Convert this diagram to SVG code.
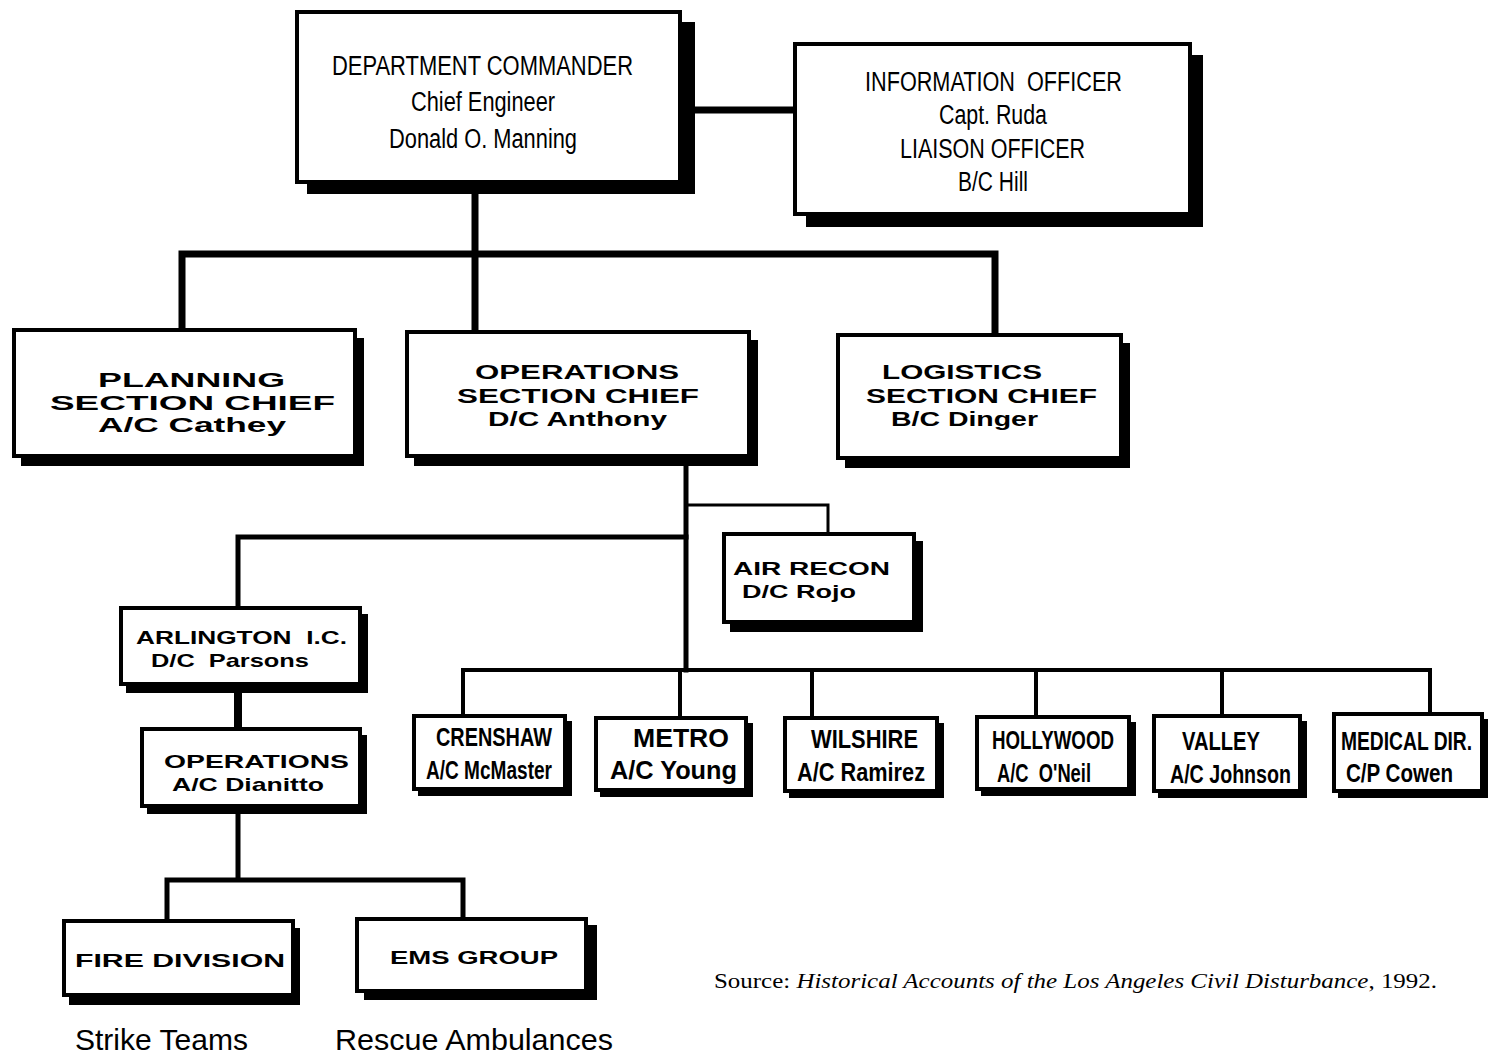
<svg xmlns="http://www.w3.org/2000/svg" width="1488" height="1055" viewBox="0 0 1488 1055">
<style>
.bg{fill:#fff}
.box{fill:#fff;stroke:#000;stroke-width:4}
.sh{fill:#000}
.ln{fill:none;stroke:#000;stroke-linecap:square}
text{fill:#000;white-space:pre}
.n{font-family:"Liberation Sans",Arial,sans-serif;font-size:27px}
.r{font-family:"Liberation Sans",Arial,sans-serif;font-size:25px;font-weight:bold}
.w{font-family:"Liberation Sans",Arial,sans-serif;font-weight:bold;font-size:20px}
.ws{font-family:"Liberation Sans",Arial,sans-serif;font-weight:bold;font-size:19px}
.lab{font-family:"Liberation Sans",Arial,sans-serif;font-size:30px}
.src{font-family:"Liberation Serif","Times New Roman",serif;font-size:21px}
</style>
<rect class="bg" x="0" y="0" width="1488" height="1055"/>
<g id="connectors">
<path class="ln" stroke-width="7" d="M683 110H793"/>
<path class="ln" stroke-width="7" d="M475 186V254M182 254H995M182 254V328M475 254V330M995 254V333"/>
<path class="ln" stroke-width="5" d="M686 465V670"/>
<path class="ln" stroke-width="3" d="M686 505H828V532"/>
<path class="ln" stroke-width="5" d="M686 537H238V606"/>
<path class="ln" stroke-width="4" d="M463 670H1430M463 670V714M680 670V716M812 670V716M1036 670V715M1222 670V714M1430 670V712"/>
<path class="ln" stroke-width="8" d="M238 688V727"/>
<path class="ln" stroke-width="5" d="M238 810V880M167 880H463M167 880V919M463 880V917"/>
</g>
<g id="dept-commander">
<rect class="sh" x="307" y="22" width="388" height="172"/>
<rect class="box" x="297" y="12" width="383" height="170"/>
<text class="n" x="332" y="75" textLength="301" lengthAdjust="spacingAndGlyphs">DEPARTMENT COMMANDER</text>
<text class="n" x="411" y="111" textLength="144" lengthAdjust="spacingAndGlyphs">Chief Engineer</text>
<text class="n" x="389" y="148" textLength="188" lengthAdjust="spacingAndGlyphs">Donald O. Manning</text>
</g>
<g id="info-officer">
<rect class="sh" x="806" y="55" width="397" height="172"/>
<rect class="box" x="795" y="44" width="395" height="170"/>
<text class="n" x="865" y="91" textLength="257" lengthAdjust="spacingAndGlyphs">INFORMATION  OFFICER</text>
<text class="n" x="939" y="124" textLength="108" lengthAdjust="spacingAndGlyphs">Capt. Ruda</text>
<text class="n" x="900" y="158" textLength="185" lengthAdjust="spacingAndGlyphs">LIAISON OFFICER</text>
<text class="n" x="958" y="191" textLength="70" lengthAdjust="spacingAndGlyphs">B/C Hill</text>
</g>
<g id="planning">
<rect class="sh" x="21" y="338" width="343" height="128"/>
<rect class="box" x="14" y="330" width="341" height="126"/>
<text class="w" x="98" y="387" textLength="187" lengthAdjust="spacingAndGlyphs">PLANNING</text>
<text class="w" x="50" y="410" textLength="285" lengthAdjust="spacingAndGlyphs">SECTION CHIEF</text>
<text class="w" x="98" y="432" textLength="188" lengthAdjust="spacingAndGlyphs">A/C Cathey</text>
</g>
<g id="operations-section">
<rect class="sh" x="414" y="340" width="344" height="126"/>
<rect class="box" x="407" y="332" width="342" height="124"/>
<text class="w" x="475" y="379" textLength="204" lengthAdjust="spacingAndGlyphs">OPERATIONS</text>
<text class="w" x="457" y="403" textLength="242" lengthAdjust="spacingAndGlyphs">SECTION CHIEF</text>
<text class="w" x="488" y="426" textLength="179" lengthAdjust="spacingAndGlyphs">D/C Anthony</text>
</g>
<g id="logistics">
<rect class="sh" x="845" y="343" width="285" height="125"/>
<rect class="box" x="838" y="335" width="283" height="123"/>
<text class="w" x="882" y="379" textLength="160" lengthAdjust="spacingAndGlyphs">LOGISTICS</text>
<text class="w" x="866" y="403" textLength="231" lengthAdjust="spacingAndGlyphs">SECTION CHIEF</text>
<text class="w" x="891" y="426" textLength="147" lengthAdjust="spacingAndGlyphs">B/C Dinger</text>
</g>
<g id="air-recon">
<rect class="sh" x="730" y="541" width="193" height="91"/>
<rect class="box" x="724" y="534" width="190" height="88"/>
<text class="ws" x="733" y="575" textLength="157" lengthAdjust="spacingAndGlyphs">AIR RECON</text>
<text class="ws" x="742" y="598" textLength="114" lengthAdjust="spacingAndGlyphs">D/C Rojo</text>
</g>
<g id="arlington">
<rect class="sh" x="126" y="614" width="242" height="79"/>
<rect class="box" x="121" y="608" width="239" height="76"/>
<text class="ws" x="136" y="644" textLength="211" lengthAdjust="spacingAndGlyphs">ARLINGTON  I.C.</text>
<text class="ws" x="151" y="667" textLength="158" lengthAdjust="spacingAndGlyphs">D/C  Parsons</text>
</g>
<g id="operations-dianitto">
<rect class="sh" x="147" y="735" width="220" height="79"/>
<rect class="box" x="142" y="729" width="218" height="77"/>
<text class="ws" x="164" y="768" textLength="185" lengthAdjust="spacingAndGlyphs">OPERATIONS</text>
<text class="ws" x="172" y="791" textLength="152" lengthAdjust="spacingAndGlyphs">A/C Dianitto</text>
</g>
<g id="fire-division">
<rect class="sh" x="69" y="928" width="231" height="77"/>
<rect class="box" x="64" y="921" width="229" height="74"/>
<text class="ws" x="75" y="967" textLength="210" lengthAdjust="spacingAndGlyphs">FIRE DIVISION</text>
</g>
<g id="ems-group">
<rect class="sh" x="364" y="925" width="233" height="75"/>
<rect class="box" x="357" y="919" width="229" height="72"/>
<text class="ws" x="390" y="964" textLength="168" lengthAdjust="spacingAndGlyphs">EMS GROUP</text>
</g>
<g id="crenshaw">
<rect class="sh" x="418" y="721" width="154" height="75"/>
<rect class="box" x="414" y="716" width="151" height="73"/>
<text class="r" x="436" y="746" textLength="116" lengthAdjust="spacingAndGlyphs">CRENSHAW</text>
<text class="r" x="426" y="779" textLength="126" lengthAdjust="spacingAndGlyphs">A/C McMaster</text>
</g>
<g id="metro">
<rect class="sh" x="600" y="723" width="153" height="74"/>
<rect class="box" x="596" y="718" width="150" height="72"/>
<text class="r" x="633" y="747" textLength="96" lengthAdjust="spacingAndGlyphs">METRO</text>
<text class="r" x="610" y="779" textLength="127" lengthAdjust="spacingAndGlyphs">A/C Young</text>
</g>
<g id="wilshire">
<rect class="sh" x="789" y="723" width="155" height="75"/>
<rect class="box" x="785" y="718" width="152" height="73"/>
<text class="r" x="811" y="748" textLength="107" lengthAdjust="spacingAndGlyphs">WILSHIRE</text>
<text class="r" x="797" y="781" textLength="128" lengthAdjust="spacingAndGlyphs">A/C Ramirez</text>
</g>
<g id="hollywood">
<rect class="sh" x="981" y="722" width="155" height="74"/>
<rect class="box" x="977" y="717" width="152" height="72"/>
<text class="r" x="992" y="749" textLength="122" lengthAdjust="spacingAndGlyphs">HOLLYWOOD</text>
<text class="r" x="997" y="782" textLength="94" lengthAdjust="spacingAndGlyphs">A/C  O'Neil</text>
</g>
<g id="valley">
<rect class="sh" x="1158" y="721" width="149" height="77"/>
<rect class="box" x="1154" y="716" width="146" height="75"/>
<text class="r" x="1182" y="750" textLength="78" lengthAdjust="spacingAndGlyphs">VALLEY</text>
<text class="r" x="1170" y="783" textLength="121" lengthAdjust="spacingAndGlyphs">A/C Johnson</text>
</g>
<g id="medical-dir">
<rect class="sh" x="1338" y="719" width="150" height="79"/>
<rect class="box" x="1334" y="714" width="148" height="77"/>
<text class="r" transform="translate(1341 750) scale(0.77 1)" x="0" y="0">MEDICAL DIR.</text>
<text class="r" x="1346" y="782" textLength="107" lengthAdjust="spacingAndGlyphs">C/P Cowen</text>
</g>
<text class="lab" x="75" y="1050" textLength="173" lengthAdjust="spacingAndGlyphs">Strike Teams</text>
<text class="lab" x="335" y="1050" textLength="278" lengthAdjust="spacingAndGlyphs">Rescue Ambulances</text>
<text class="src" x="714" y="988" textLength="723" lengthAdjust="spacingAndGlyphs">Source: <tspan font-style="italic">Historical Accounts of the Los Angeles Civil Disturbance</tspan>, 1992.</text>
</svg>
